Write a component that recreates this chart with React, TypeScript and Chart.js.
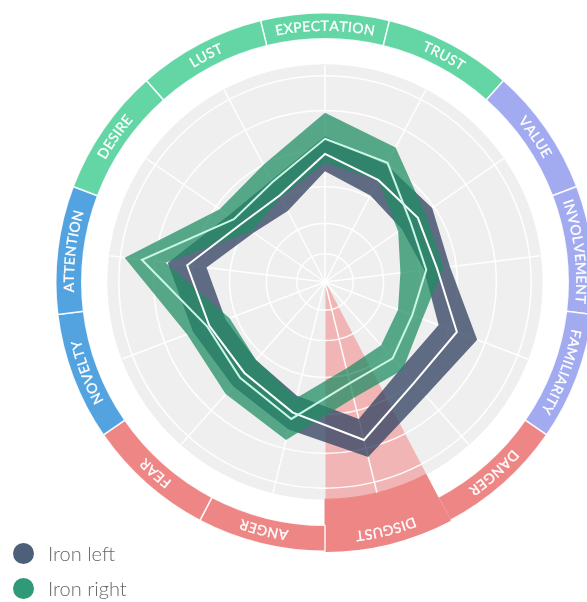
import React, { useEffect, useRef } from 'react';
import { Chart, registerables } from 'chart.js';

Chart.register(...registerables);

// ---- data ----
const categories = [
  'EXPECTATION', 'TRUST', 'VALUE', 'INVOLVEMENT', 'FAMILIARITY', 'DANGER',
  'DISGUST', 'ANGER', 'FEAR', 'NOVELTY', 'ATTENTION', 'DESIRE', 'LUST',
];
const categoryGroups = [
  'positive', 'positive', 'engagement', 'engagement', 'engagement', 'negative',
  'negative', 'negative', 'negative', 'surprise', 'surprise', 'positive', 'positive',
];
const highlightedCategory = 'DISGUST';

const ironLeftUpper = [67, 61, 60, 58, 75, 70, 83, 70, 64, 65, 73, 54, 53];
const ironLeftMean = [59, 53, 52, 52, 65, 62, 75, 62, 56, 57, 64, 47, 45];
const ironLeftLower = [51, 45, 43, 46, 56, 53, 65, 54, 48, 49, 55, 40, 37];

const ironRightUpper = [78, 70, 56, 55, 48, 54, 55, 75, 69, 68, 93, 59, 61];
const ironRightMean = [66, 62, 48, 47, 43, 47, 48, 65, 59, 58, 85, 51, 52];
const ironRightLower = [55, 53, 41, 35, 36, 39, 41, 55, 48, 47, 74, 41, 44];

const gridTicks = [0, 13, 27, 44, 61, 79, 95];
const scaleMax = 100;

const seriesNames = ['Iron left', 'Iron right'];

// ---- styles ----
const groupColors: Record<string, string> = {
  positive: '#64d6a5',
  engagement: '#a2aaf0',
  negative: '#ee8686',
  surprise: '#52a3e0',
};
const discColor = '#efefef';
const wedgeColor = '#f1b5b5';
const leftFill = 'rgba(58,74,102,0.8)';
const rightFill = 'rgba(32,140,100,0.74)';
const leftSwatch = '#4d6079';
const rightSwatch = '#2e9a78';

const CX = 325;
const CY = 282;
const DISC_R = 217;
const RING_SIZE = 540;

const ringLabelPlugin = {
  id: 'ringLabels',
  afterDatasetsDraw(chart: any) {
    const meta = chart.getDatasetMeta(0);
    const ctx = chart.ctx;
    const fontSize = 14;
    ctx.save();
    ctx.font = `${fontSize}px Lato, "Open Sans", sans-serif`;
    ctx.fillStyle = '#ffffff';
    ctx.strokeStyle = 'rgba(255,255,255,0.85)';
    ctx.lineWidth = 0.35;
    ctx.textAlign = 'center';
    ctx.textBaseline = 'alphabetic';
    const spacing = 0.5;
    const capH = fontSize * 0.72;
    meta.data.forEach((arc: any, i: number) => {
      const p = arc.getProps(['x', 'y', 'startAngle', 'endAngle', 'innerRadius', 'outerRadius'], true);
      const mid = (p.startAngle + p.endAngle) / 2 + Math.PI / 2;
      const r = (p.innerRadius + p.outerRadius) / 2;
      const chars = [...categories[i]];
      const widths = chars.map((ch) => ctx.measureText(ch).width);
      const total = widths.reduce((a, b) => a + b, 0) + spacing * (chars.length - 1);
      let a = mid - total / (2 * r);
      chars.forEach((ch, j) => {
        const ang = a + widths[j] / 2 / r;
        ctx.save();
        ctx.translate(p.x, p.y);
        ctx.rotate(ang);
        ctx.fillText(ch, 0, -r + capH / 2);
        ctx.strokeText(ch, 0, -r + capH / 2);
        ctx.restore();
        a += (widths[j] + spacing) / r;
      });
    });
    ctx.restore();
  },
};

export default function App() {
  const ringRef = useRef<HTMLCanvasElement>(null);
  const radarRef = useRef<HTMLCanvasElement>(null);

  useEffect(() => {
    const ringColors = categoryGroups.map((g) => groupColors[g]);
    const isHi = categories.map((c) => c === highlightedCategory);
    const ones = categories.map(() => 1);

    const ring = new Chart(ringRef.current as HTMLCanvasElement, {
      type: 'doughnut',
      data: {
        labels: categories,
        datasets: [
          {
            data: ones,
            backgroundColor: ringColors,
            borderColor: isHi.map((h, i) => (h ? ringColors[i] : 'rgba(255,255,255,0.9)')),
            borderWidth: 1.5,
            weight: 26,
          } as any,
          {
            data: ones,
            backgroundColor: isHi.map((h, i) => (h ? ringColors[i] : 'rgba(0,0,0,0)')),
            borderColor: isHi.map((h, i) => (h ? ringColors[i] : 'rgba(0,0,0,0)')),
            borderWidth: isHi.map((h) => (h ? 1 : 0)),
            weight: 26,
          } as any,
          {
            data: ones,
            backgroundColor: isHi.map((h) => (h ? wedgeColor : discColor)),
            borderColor: isHi.map((h) => (h ? wedgeColor : discColor)),
            borderWidth: 1,
            weight: 217,
          } as any,
        ],
      },
      options: {
        responsive: false,
        animation: false,
        events: [],
        cutout: 0,
        rotation: -360 / categories.length / 2,
        plugins: { legend: { display: false }, tooltip: { enabled: false } },
      } as any,
      plugins: [ringLabelPlugin],
    });

    const band = (upper: number[], lower: number[], fillColor: string) => [
      {
        label: 'upper',
        data: upper,
        borderWidth: 0,
        backgroundColor: fillColor,
        fill: '+1',
        pointRadius: 0,
      },
      {
        label: 'lower',
        data: lower,
        borderWidth: 0,
        backgroundColor: 'rgba(0,0,0,0)',
        fill: false,
        pointRadius: 0,
      },
    ];

    const radar = new Chart(radarRef.current as HTMLCanvasElement, {
      type: 'radar',
      data: {
        labels: categories,
        datasets: [
          {
            label: seriesNames[1],
            data: ironRightMean,
            borderColor: '#c9f7e6',
            borderWidth: 2,
            fill: false,
            pointRadius: 0,
          },
          {
            label: seriesNames[0],
            data: ironLeftMean,
            borderColor: '#ffffff',
            borderWidth: 2,
            fill: false,
            pointRadius: 0,
          },
          ...band(ironRightUpper, ironRightLower, rightFill),
          ...band(ironLeftUpper, ironLeftLower, leftFill),
        ] as any,
      },
      options: {
        responsive: false,
        animation: false,
        events: [],
        layout: {
          padding: {
            left: CX - DISC_R,
            top: CY - DISC_R,
            right: 587 - CX - DISC_R,
            bottom: 602 - CY - DISC_R,
          },
        },
        plugins: { legend: { display: false }, tooltip: { enabled: false } },
        elements: { line: { tension: 0 }, point: { radius: 0 } },
        scales: {
          r: {
            min: 0,
            max: scaleMax,
            afterBuildTicks: (s: any) => {
              s.ticks = gridTicks.map((v) => ({ value: v }));
            },
            ticks: { display: false },
            grid: { circular: true, color: 'rgba(255,255,255,0.95)', lineWidth: 1.5 },
            angleLines: { color: 'rgba(255,255,255,0.95)', lineWidth: 1.5 },
            pointLabels: { display: false },
          },
        },
      } as any,
    });

    return () => {
      ring.destroy();
      radar.destroy();
    };
  }, []);

  const legendItems = [
    { name: seriesNames[0], color: leftSwatch, y: 553 },
    { name: seriesNames[1], color: rightSwatch, y: 588 },
  ];

  return (
    <div
      style={{
        position: 'fixed',
        left: 0,
        top: 0,
        width: 587,
        height: 602,
        overflow: 'hidden',
        background: '#ffffff',
      }}
    >
      <canvas
        ref={ringRef}
        width={RING_SIZE}
        height={RING_SIZE}
        style={{ position: 'absolute', left: CX - RING_SIZE / 2, top: CY - RING_SIZE / 2 }}
      />
      <canvas
        ref={radarRef}
        width={587}
        height={602}
        style={{ position: 'absolute', left: 0, top: 0 }}
      />
      {legendItems.map((it) => (
        <div
          key={it.name}
          style={{
            position: 'absolute',
            left: 13,
            top: it.y - 12,
            height: 24,
            display: 'flex',
            alignItems: 'center',
            fontFamily: 'Lato, "Open Sans", sans-serif',
            fontWeight: 300,
            fontSize: 20,
            color: '#666',
          }}
        >
          <span
            style={{
              display: 'inline-block',
              width: 21,
              height: 21,
              borderRadius: '50%',
              background: it.color,
              marginRight: 14,
            }}
          />
          {it.name}
        </div>
      ))}
    </div>
  );
}
